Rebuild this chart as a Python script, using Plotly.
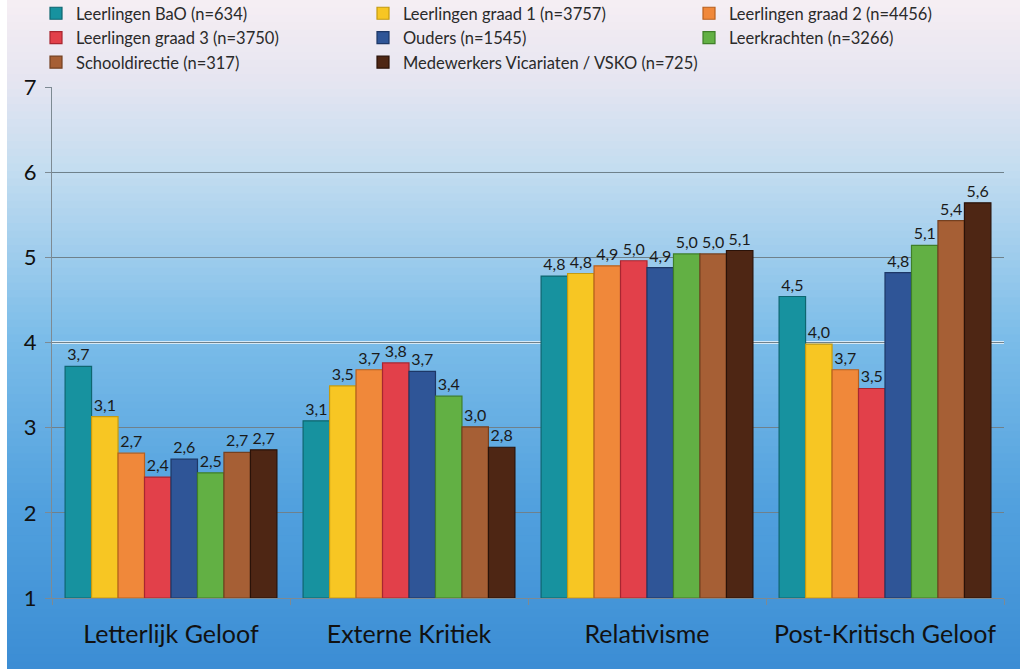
import plotly.graph_objects as go

categories = ["Letterlijk Geloof", "Externe Kritiek", "Relativisme", "Post-Kritisch Geloof"]

series_names = [
    "Leerlingen BaO (n=634)",
    "Leerlingen graad 1 (n=3757)",
    "Leerlingen graad 2 (n=4456)",
    "Leerlingen graad 3 (n=3750)",
    "Ouders (n=1545)",
    "Leerkrachten (n=3266)",
    "Schooldirectie (n=317)",
    "Medewerkers Vicariaten / VSKO (n=725)",
]

bao = [3.72, 3.08, 4.78, 4.54]
graad1 = [3.13, 3.49, 4.81, 3.98]
graad2 = [2.70, 3.68, 4.90, 3.68]
graad3 = [2.42, 3.76, 4.96, 3.46]
ouders = [2.63, 3.66, 4.88, 4.82]
leerkrachten = [2.47, 3.37, 5.04, 5.14]
schooldirectie = [2.71, 3.01, 5.04, 5.43]
medewerkers = [2.74, 2.77, 5.08, 5.64]

series_values = [bao, graad1, graad2, graad3, ouders, leerkrachten, schooldirectie, medewerkers]

colors = ["#17929f", "#f7c623", "#f0883a", "#e2404a", "#2f5597", "#62b044", "#a65f35", "#4e2614"]
edge_colors = ["#0e6670", "#c49a10", "#b8601e", "#a82630", "#1d3766", "#3f7f28", "#744020", "#2a1208"]
legend_column = ["legend", "legend2", "legend3", "legend", "legend2", "legend3", "legend", "legend2"]

y_ticks = [1, 2, 3, 4, 5, 6, 7]

W, H = 1020, 669
ML, MR, MT, MB = 52, 16, 87, 71
pw, ph = W - ML - MR, H - MT - MB

FONT = "Lato, Open Sans, sans-serif"

fig = go.Figure()
for i, (name, vals, c, ec, lg) in enumerate(zip(series_names, series_values, colors, edge_colors, legend_column)):
    fig.add_trace(go.Bar(
        x=categories, y=[v - 1 for v in vals], base=1,
        name=name, legend=lg,
        marker=dict(color=c, line=dict(color=ec, width=1.2)),
        text=[f"{v:.1f}".replace(".", ",") for v in vals],
        textposition="outside",
        textfont=dict(family=FONT, size=16, color="#1a1a1a"),
        cliponaxis=False,
    ))

def lerp(c1, c2, t):
    return tuple(int(round(a + (b - a) * t)) for a, b in zip(c1, c2))

stops = [(0.0, (246, 238, 243)), (0.12, (230, 229, 241)), (0.25, (196, 221, 240)),
         (0.5, (124, 189, 233)), (0.75, (82, 161, 222)), (1.0, (60, 141, 212))]

def color_at(t):
    for (t0, c0), (t1, c1) in zip(stops[:-1], stops[1:]):
        if t0 <= t <= t1:
            return lerp(c0, c1, (t - t0) / (t1 - t0))
    return stops[-1][1]

shapes = []
n_bands = 90
x0p, x1p = -ML / pw, 1 + MR / pw
for i in range(n_bands):
    top_px = H * i / n_bands
    bot_px = H * (i + 1) / n_bands + 1
    y_top = 1 + MT / ph - top_px / ph
    y_bot = 1 + MT / ph - bot_px / ph
    r, g, b = color_at((i + 0.5) / n_bands)
    shapes.append(dict(type="rect", xref="paper", yref="paper", x0=x0p, x1=x1p,
                       y0=y_bot, y1=y_top, fillcolor=f"rgb({r},{g},{b})",
                       line=dict(width=0), layer="below"))
shapes.append(dict(type="rect", xref="paper", yref="paper", x0=x0p, x1=x0p + 7 / pw,
                   y0=-MB / ph, y1=1 + MT / ph, fillcolor="white", line=dict(width=0), layer="below"))
shapes.append(dict(type="line", xref="paper", yref="y", x0=0, x1=1, y0=4, y1=4,
                   line=dict(color="#f4f8fb", width=2.5), layer="below"))

def legend_at(px_x):
    return dict(
        orientation="v", xref="paper", yref="paper",
        x=(px_x - ML) / pw, xanchor="left", y=1 + (MT + 4) / ph, yanchor="top",
        font=dict(family=FONT, size=16.5, color="#2a2a2a"), itemwidth=30,
        bgcolor="rgba(0,0,0,0)", tracegroupgap=0, traceorder="normal",
    )

fig.update_layout(
    width=W, height=H,
    margin=dict(l=ML, r=MR, t=MT, b=MB, autoexpand=False),
    paper_bgcolor="rgba(0,0,0,0)",
    plot_bgcolor="rgba(0,0,0,0)",
    barmode="group",
    bargap=0.11,
    bargroupgap=0.0,
    shapes=shapes,
    font=dict(family=FONT, color="#111"),
    legend=legend_at(36),
    legend2=legend_at(363),
    legend3=legend_at(689),
    xaxis=dict(
        showgrid=False, showline=True, linecolor="#7d8a93", linewidth=1.2,
        ticks="outside", tickson="boundaries", ticklen=6, tickcolor="#7d8a93",
        tickangle=0,
        tickfont=dict(family=FONT, size=25, color="#111"), ticklabelstandoff=14,
    ),
    yaxis=dict(
        range=[1, 7], tickvals=y_ticks, showgrid=True, gridcolor="#6f818b", gridwidth=1.2,
        showline=True, linecolor="#7d8a93", linewidth=1,
        ticks="outside", ticklen=6, tickcolor="#7d8a93",
        tickfont=dict(family=FONT, size=22, color="#111"), zeroline=False,
        ticklabelstandoff=4,
    ),
)

fig.write_html("out.html")
